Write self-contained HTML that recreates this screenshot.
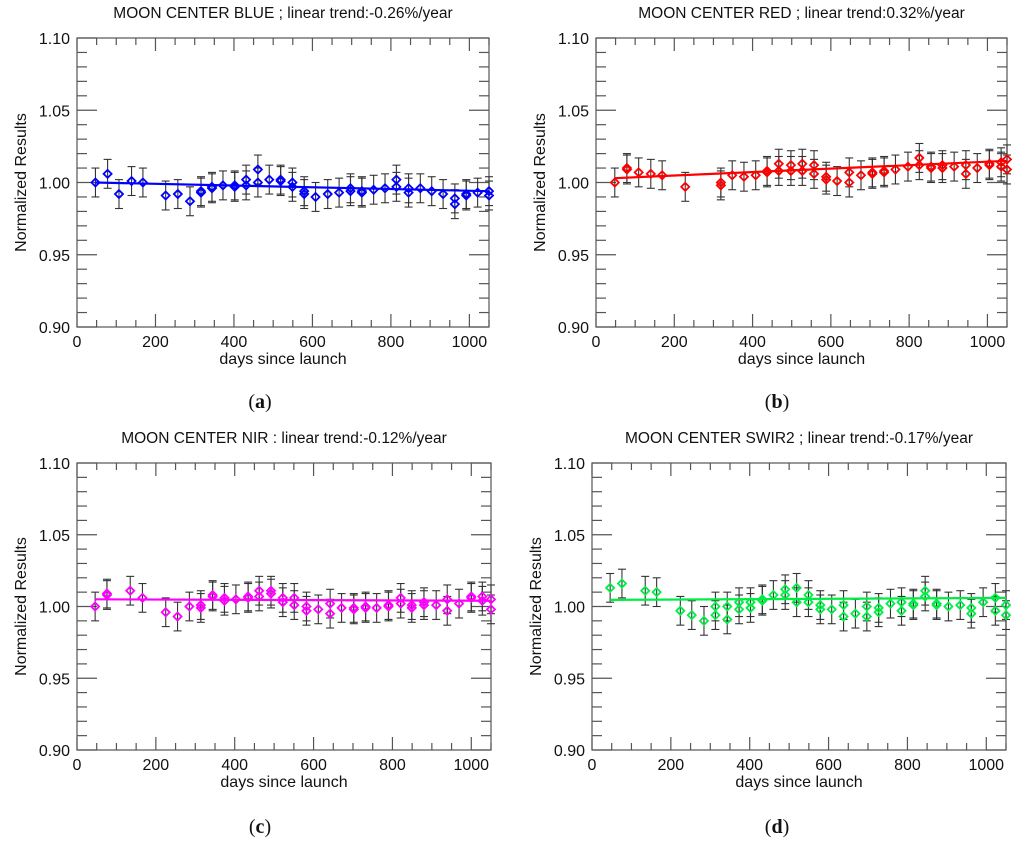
<!DOCTYPE html>
<html><head><meta charset="utf-8"><style>
body{margin:0;background:#fff;}
svg{display:block;font-family:"Liberation Sans",sans-serif;}
</style></head><body>
<svg id="fig" width="1024" height="841" viewBox="0 0 1024 841"></svg>
<script>
const xTicks=[0,200,400,600,800,1000];
const yTicks=[0.90,0.95,1.00,1.05,1.10];
const yTickLabels=["0.90","0.95","1.00","1.05","1.10"];

const daysA=[47,78,107,139,168,226,257,288,316,316,344,344,372,402,402,431,431,461,461,490,519,519,549,549,579,579,608,639,668,697,697,726,726,756,785,814,814,845,845,875,904,933,963,963,992,992,1021,1050,1050];
const valsA=[1.000,1.006,0.992,1.001,1.000,0.991,0.992,0.987,0.993,0.994,0.997,0.996,0.998,0.998,0.997,1.002,0.998,1.009,1.000,1.002,1.002,1.001,1.000,0.997,0.994,0.992,0.990,0.992,0.993,0.994,0.996,0.994,0.993,0.995,0.996,1.002,0.997,0.996,0.993,0.996,0.994,0.992,0.989,0.985,0.991,0.992,0.993,0.994,0.991];
const trendA=[1.000,0.994];

const daysB=[48,79,79,109,140,169,228,319,319,348,378,408,437,437,467,467,498,498,527,527,557,557,588,588,616,647,647,677,706,706,736,736,765,797,826,826,856,856,885,885,915,945,945,974,1005,1005,1035,1035,1050,1050];
const valsB=[1.000,1.010,1.009,1.007,1.006,1.005,0.997,1.000,0.998,1.005,1.004,1.005,1.008,1.007,1.013,1.008,1.012,1.008,1.013,1.008,1.012,1.006,1.004,1.002,1.001,1.007,1.000,1.005,1.007,1.006,1.008,1.007,1.009,1.011,1.017,1.012,1.011,1.010,1.012,1.010,1.011,1.012,1.006,1.010,1.013,1.012,1.014,1.011,1.016,1.009];
const trendB=[1.003,1.015];

const daysC=[46,76,76,135,166,225,255,285,314,314,344,344,374,374,403,434,434,462,462,492,492,522,522,551,551,582,582,612,642,642,671,702,702,732,732,760,790,790,821,821,849,849,880,880,911,939,939,969,1000,1000,1028,1028,1050,1050];
const valsC=[1.000,1.009,1.008,1.011,1.006,0.996,0.993,1.000,1.001,0.999,1.008,1.007,1.006,1.004,1.005,1.006,1.007,1.011,1.007,1.011,1.009,1.006,1.003,1.006,1.001,1.000,0.997,0.998,1.002,0.995,0.999,0.998,0.999,1.000,0.999,0.999,1.001,1.000,1.006,1.002,1.001,0.999,1.003,1.001,1.001,1.005,0.997,1.002,1.007,1.006,1.007,1.004,1.005,0.998];
const trendC=[1.005,1.004];

const daysD=[46,76,135,164,224,253,284,313,313,343,343,373,373,402,402,432,432,460,490,490,519,519,549,549,579,579,608,638,638,668,697,697,727,727,757,785,785,815,815,845,845,874,874,904,934,962,962,992,1023,1023,1050,1050];
const valsD=[1.013,1.016,1.011,1.010,0.997,0.994,0.990,1.000,0.994,1.000,0.991,1.003,0.998,1.003,0.999,1.005,1.004,1.008,1.012,1.008,1.013,1.003,1.008,1.003,1.001,0.998,0.998,1.001,0.993,0.995,1.000,0.993,0.999,0.996,1.002,1.003,0.997,1.002,1.001,1.011,1.007,1.002,1.001,1.000,1.001,0.999,0.995,1.003,1.006,0.997,1.001,0.994];
const trendD=[1.0046,1.006];

const errHalf=0.01;
const NS="http://www.w3.org/2000/svg";
const svg=document.getElementById('fig');
function mk(tag,attrs,parent){const e=document.createElementNS(NS,tag);for(const k in attrs)e.setAttribute(k,attrs[k]);(parent||svg).appendChild(e);return e;}

function panel(p){
  const g=mk('g',{});
  
  
  const X=d=>p.l+(d-0)/(1050-0)*(p.r-p.l);
  const Y=v=>p.b-(v-0.90)/(0.20)*(p.b-p.t);
  const t=mk('text',{x:(p.l+p.r)/2,y:p.t-20,'text-anchor':'middle','font-size':15.5,fill:'#111'},g);
  t.textContent=p.title;
  
  
  const ax=mk('g',{stroke:'#555','stroke-width':1.2},g);
  
  
  mk('rect',{x:p.l,y:p.t,width:p.r-p.l,height:p.b-p.t,fill:'none'},ax);
  for(let d=0;d<=1050;d+=50){const x=X(d);const L=(d%200===0)?13:7;
    mk('line',{x1:x,y1:p.b,x2:x,y2:p.b-L},ax);mk('line',{x1:x,y1:p.t,x2:x,y2:p.t+L},ax);}
  for(let i=0;i<=20;i++){const v=0.90+i*0.01;const y=Y(v);const L=(i%5===0)?20:10;
    mk('line',{x1:p.l,y1:y,x2:p.l+L,y2:y},ax);mk('line',{x1:p.r,y1:y,x2:p.r-L,y2:y},ax);}
  xTicks.forEach(d=>{const tl=mk('text',{x:X(d),y:p.b+20,'text-anchor':'middle','font-size':16,fill:'#111'},g);tl.textContent=d;
    
    });
  yTicks.forEach((v,i)=>{const tl=mk('text',{x:p.l-7,y:Y(v)+6,'text-anchor':'end','font-size':16,fill:'#111'},g);tl.textContent=yTickLabels[i];
    
    });
  const xl=mk('text',{x:(p.l+p.r)/2,y:p.b+37,'text-anchor':'middle','font-size':16,fill:'#111'},g);xl.textContent='days since launch';
  
  
  const cy=(p.t+p.b)/2;
  const yl=mk('text',{x:p.l-51,y:cy,'text-anchor':'middle','font-size':16,fill:'#111',transform:`rotate(-90 ${p.l-51} ${cy})`},g);yl.textContent='Normalized Results';
  
  
  const eb=mk('g',{stroke:'#333','stroke-width':1.1},g);
  
  
  p.days.forEach((d,i)=>{const x=X(d),y1=Y(p.vals[i]-errHalf),y2=Y(p.vals[i]+errHalf);
    mk('line',{x1:x,y1:y1,x2:x,y2:y2},eb);mk('line',{x1:x-4,y1:y1,x2:x+4,y2:y1},eb);mk('line',{x1:x-4,y1:y2,x2:x+4,y2:y2},eb);});
  const tr=mk('line',{x1:X(p.days[0]),y1:Y(p.trend[0]),x2:X(1050),y2:Y(p.trend[1]),stroke:p.color,'stroke-width':2.2},g);
  
  
  p.days.forEach((d,i)=>{const x=X(d),y=Y(p.vals[i]);
    const m=mk('polygon',{points:`${x},${y-4} ${x+4},${y} ${x},${y+4} ${x-4},${y}`,fill:'none',stroke:p.color,'stroke-width':1.8},g);
    
    });
  const c=mk('text',{x:p.cx,y:p.cy,'text-anchor':'middle','font-size':20,fill:'#111','font-family':'Liberation Serif, serif'},g);
  c.innerHTML='(<tspan font-weight="bold">'+p.letter+'</tspan>)';
  
  
}
panel({name:'panel-blue',l:77,r:489,t:38,b:327,color:'#0000ff',title:'MOON CENTER BLUE ; linear trend:-0.26%/year',days:daysA,vals:valsA,trend:trendA,letter:'a',cx:260,cy:408});
panel({name:'panel-red',l:596,r:1007,t:38,b:327,color:'#ff0000',title:'MOON CENTER RED ; linear trend:0.32%/year',days:daysB,vals:valsB,trend:trendB,letter:'b',cx:777,cy:408});
panel({name:'panel-nir',l:77,r:491,t:463,b:750,color:'#ff00ff',title:'MOON CENTER NIR :  linear trend:-0.12%/year',days:daysC,vals:valsC,trend:trendC,letter:'c',cx:260,cy:833});
panel({name:'panel-swir2',l:592,r:1006,t:463,b:750,color:'#00ee44',title:'MOON CENTER SWIR2 ; linear trend:-0.17%/year',days:daysD,vals:valsD,trend:trendD,letter:'d',cx:777,cy:833});
</script>
</body></html>
